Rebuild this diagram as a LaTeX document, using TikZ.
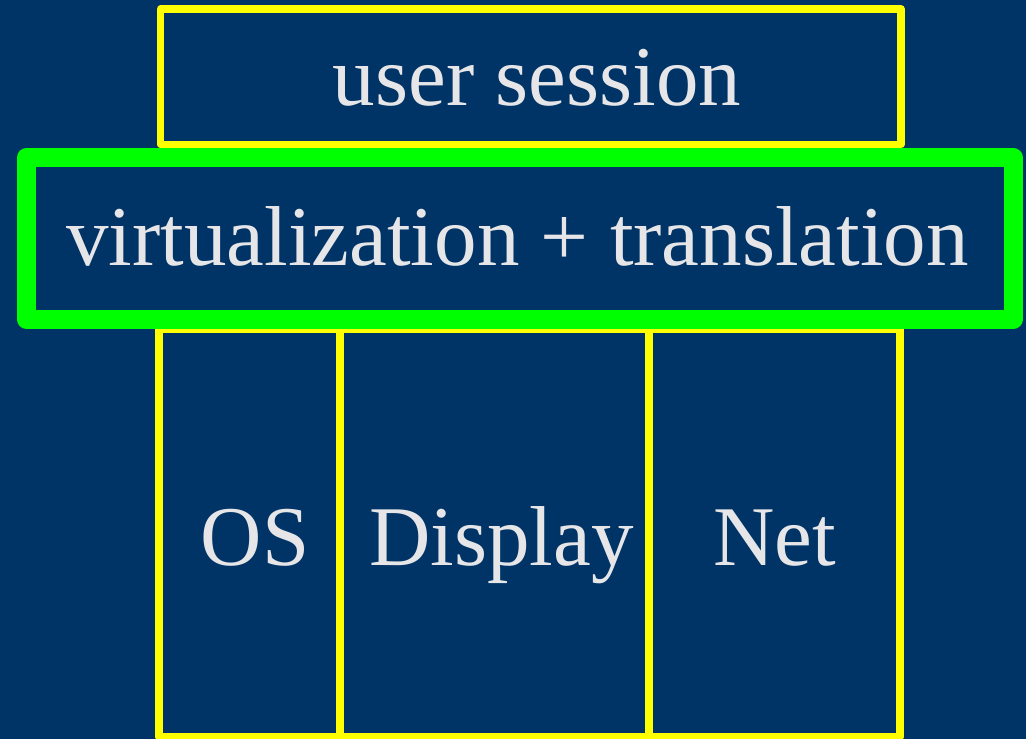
\documentclass[tikz,border=0pt]{standalone}
\usepackage{fontspec}
\setmainfont{Liberation Serif}
\definecolor{bgblue}{RGB}{0,51,102}
\definecolor{frameyellow}{RGB}{255,255,0}
\definecolor{framegreen}{RGB}{0,255,0}
\definecolor{labelgray}{RGB}{230,230,232}
\begin{document}
\begin{tikzpicture}[x=1pt,y=-1pt,
  yellowbox/.style={draw=frameyellow,line width=7.5pt,line join=round},
  greenbox/.style={draw=framegreen,line width=19pt,line join=round},
  label/.style={text=labelgray,anchor=base,inner sep=0pt,font=\fontsize{85}{100}\selectfont}]
  % background and page size
  \fill[bgblue] (0,0) rectangle (1026,739);
  \useasboundingbox (0,0) rectangle (1026,739);

  % top box: user session
  \draw[yellowbox] (160.5,9) rectangle (901,144.5);
  \node[label] (session) at (537,105) {user session};

  % bottom columns: OS, Display, Net
  \draw[yellowbox] (159,329) rectangle (340,737);
  \draw[yellowbox] (340,329) rectangle (649,737);
  \draw[yellowbox] (649,329) rectangle (900,737);
  \node[label] (os) at (255,565) {OS};
  \node[label] (display) at (501.5,565) {Display};
  \node[label] (net) at (774.5,565) {Net};

  % middle layer: virtualization + translation
  \draw[greenbox,fill=bgblue] (26.5,157.5) rectangle (1013,319.5);
  \node[label] (virt) at (517.5,265) {virtualization + translation};
\end{tikzpicture}
\end{document}
